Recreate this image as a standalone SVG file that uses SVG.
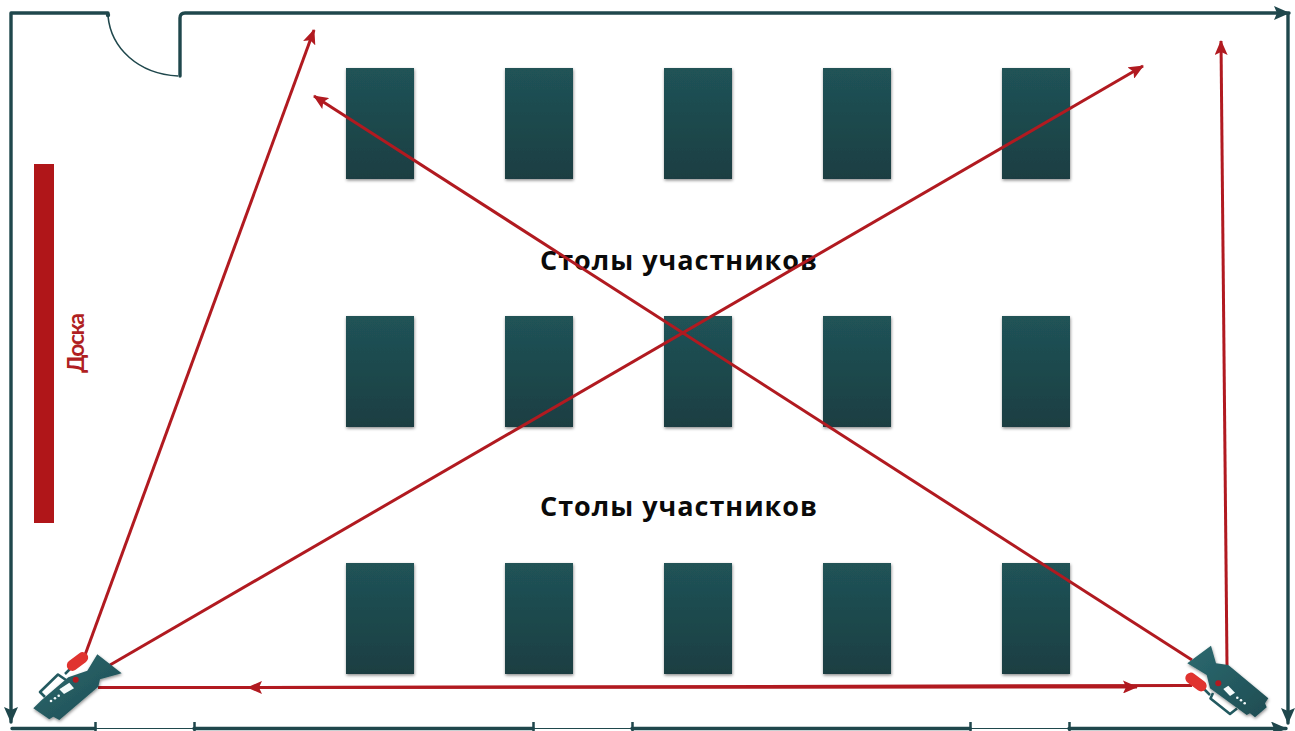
<svg xmlns="http://www.w3.org/2000/svg" width="1295" height="731" viewBox="0 0 1295 731">
<style>
.wall{fill:none;stroke:#1f474c;stroke-width:3.4;stroke-linecap:round;stroke-linejoin:round}
.thin{fill:none;stroke:#1f474c;stroke-width:1.200}
.tick{stroke:#1f474c;stroke-width:2.500}
.ray{fill:none;stroke:#b11a20;stroke-width:3}
.table{fill:url(#tg);filter:url(#sh)}
.lbl{font-family:"Open Sans","DejaVu Sans",sans-serif;font-weight:700;font-size:27px;fill:#0a0a0a;text-anchor:middle}
.body{fill:url(#cg);filter:url(#sh)}
.red{fill:#e0332f}
.dot{fill:#b11a20}
.wht{fill:#f4fafa}
.hdl{fill:none;stroke:#235a60;stroke-width:2.600;stroke-linejoin:round}
</style>
<defs>
<linearGradient id="tg" x1="0" y1="0" x2="0" y2="1"><stop offset="0" stop-color="#205357"/><stop offset="1" stop-color="#1b3e42"/></linearGradient>
<linearGradient id="cg" x1="0" y1="0" x2="1" y2="1"><stop offset="0" stop-color="#2c6a70"/><stop offset="1" stop-color="#1e4c52"/></linearGradient>
<filter id="sh" x="-10%" y="-10%" width="125%" height="125%"><feDropShadow dx="0.5" dy="1.500" stdDeviation="1.500" flood-color="#000" flood-opacity="0.45"/></filter>
<marker id="rh" viewBox="0 0 15 13" refX="14" refY="6.500" markerUnits="userSpaceOnUse" markerWidth="15" markerHeight="13" orient="auto"><path d="M0 0L15 6.500L0 13L3 6.500Z" fill="#b11a20"/></marker>
<marker id="wh" viewBox="0 0 16 14" refX="15" refY="7" markerUnits="userSpaceOnUse" markerWidth="16" markerHeight="14" orient="auto"><path d="M0 0L16 7L0 14L3 7Z" fill="#1f474c"/></marker>
</defs>
<g id="walls">
<path class="wall" d="M108 13H11V722" marker-end="url(#wh)"/>
<path class="wall" d="M180 76V18Q180 13 185 13H1289" marker-end="url(#wh)"/>
<path class="wall" d="M1288 14V723" marker-end="url(#wh)"/>
<path class="wall" d="M12 728.500H95M194 728.500H533M632 728.500H970M1069 728.500H1286" marker-end="url(#wh)"/>
<path class="thin" d="M95 728.500H194M533 728.500H632M970 728.500H1069"/>
<path class="tick" d="M95.500 722V731M194.500 722V731M533.500 722V731M632.500 722V731M970.500 722V731M1069.500 722V731"/>
<path d="M108 16C111 48 138 74 178 76" fill="none" stroke="#1f474c" stroke-width="1.600"/>
<circle cx="108" cy="15" r="2.200" fill="#1f474c"/>
</g>
<g id="board"><rect x="34" y="164" width="20" height="359" fill="#b01619"/>
<text transform="translate(84 373) rotate(-90)" font-family="Lato,'Open Sans',sans-serif" font-size="23" font-weight="700" fill="#b01f22" textLength="60">Доска</text></g>
<g id="tables">
<g id="t11"><rect class="table" x="346" y="68" width="68" height="111"/></g>
<g id="t12"><rect class="table" x="505" y="68" width="68" height="111"/></g>
<g id="t13"><rect class="table" x="664" y="68" width="68" height="111"/></g>
<g id="t14"><rect class="table" x="823" y="68" width="68" height="111"/></g>
<g id="t15"><rect class="table" x="1002" y="68" width="68" height="111"/></g>
<g id="t21"><rect class="table" x="346" y="316" width="68" height="111"/></g>
<g id="t22"><rect class="table" x="505" y="316" width="68" height="111"/></g>
<g id="t23"><rect class="table" x="664" y="316" width="68" height="111"/></g>
<g id="t24"><rect class="table" x="823" y="316" width="68" height="111"/></g>
<g id="t25"><rect class="table" x="1002" y="316" width="68" height="111"/></g>
<g id="t31"><rect class="table" x="346" y="563" width="68" height="111"/></g>
<g id="t32"><rect class="table" x="505" y="563" width="68" height="111"/></g>
<g id="t33"><rect class="table" x="664" y="563" width="68" height="111"/></g>
<g id="t34"><rect class="table" x="823" y="563" width="68" height="111"/></g>
<g id="t35"><rect class="table" x="1002" y="563" width="68" height="111"/></g>
</g>
<g id="labels">
<text class="lbl" x="678.500" y="270" textLength="277">Столы участников</text>
<text class="lbl" x="678.500" y="516" textLength="277">Столы участников</text>
</g>
<g id="connectors">
<path class="ray" d="M85 655L314 30" marker-end="url(#rh)"/>
<path class="ray" d="M110 665L1143 66" marker-end="url(#rh)"/>
<path class="ray" d="M1192 660L314 96" marker-end="url(#rh)"/>
<path class="ray" d="M1227 665L1221 41" marker-end="url(#rh)"/>
<path class="ray" d="M98 687.500L1137 687" marker-end="url(#rh)"/>
<path class="ray" d="M1192 685.500L248 687.500" marker-end="url(#rh)"/>
</g>
<g id="camera-left">
<path class="hdl" d="M45 697L40 692L58 674.500L66 680"/>
<path class="body" d="M33.300 708.300L41.700 700L68.300 677.300L87.300 670.700L97.300 654.300L121.700 673.300L100 679.300L98.300 686.700L59.300 720L53.300 716.700L49.300 719.300Z"/>
<path d="M71 668L65 674" stroke="#235a60" stroke-width="2.500"/>
<rect class="red" x="65.500" y="656" width="24" height="11" rx="5.500" transform="rotate(-37 77.500 661.500)"/>
<circle class="dot" cx="75.700" cy="679.700" r="3"/>
<path class="wht" d="M59.300 689.300L69.300 682.700L74 688.300L64 694Z"/>
<circle class="wht" cx="51" cy="701" r="1.300"/><circle class="wht" cx="55" cy="698.300" r="1.300"/><circle class="wht" cx="58.700" cy="695.700" r="1.300"/>
</g>
<g id="camera-right">
<path class="hdl" d="M1213 693L1210.500 698.500L1230 714L1237 708.500"/>
<path class="body" d="M1187.300 663.300L1211 645.700L1216 663.300L1228.300 665L1268.300 698.300L1265 703.300L1266.700 707.300L1255 717.300L1250 713.300L1246.700 715L1210 688.300L1206.700 675Z"/>
<path d="M1204 689L1210 695" stroke="#235a60" stroke-width="2.500"/>
<rect class="red" x="1184" y="676.500" width="24" height="11" rx="5.500" transform="rotate(37 1196 682)"/>
<circle class="dot" cx="1218.300" cy="683.300" r="3"/>
<path class="wht" d="M1223.300 689L1228.300 685.700L1235 692.700L1230 696Z"/>
<circle class="wht" cx="1237.300" cy="697.700" r="1.300"/><circle class="wht" cx="1241" cy="700.300" r="1.300"/><circle class="wht" cx="1244.700" cy="703.300" r="1.300"/>
</g>
</svg>
